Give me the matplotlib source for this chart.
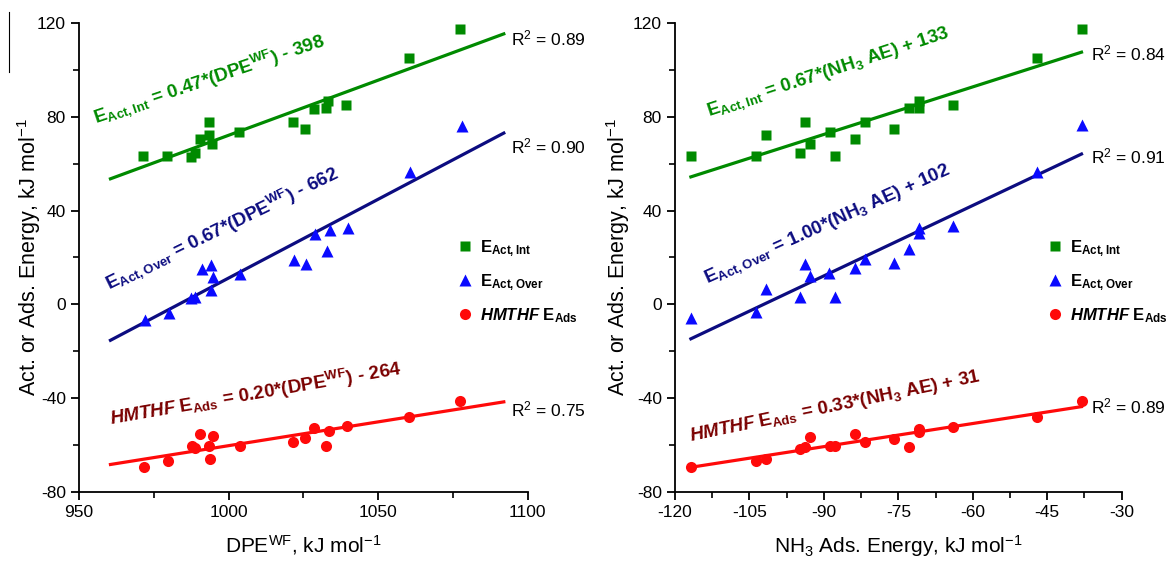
import numpy as np
import matplotlib
matplotlib.use("Agg")
import matplotlib.pyplot as plt
from matplotlib import font_manager

# 字体：优先使用窄体
names = {f.name for f in font_manager.fontManager.ttflist}
narrow = "Liberation Sans Narrow" if "Liberation Sans Narrow" in names else "Liberation Sans"
plt.rcParams["font.family"] = [narrow, "Liberation Sans", "DejaVu Sans"]
plt.rcParams["mathtext.fontset"] = "custom"
plt.rcParams["mathtext.default"] = "regular"
plt.rcParams["mathtext.it"] = narrow + ":italic:bold"
plt.rcParams["mathtext.rm"] = narrow
plt.rcParams["axes.unicode_minus"] = False

# -------------------------------
# 数据
# -------------------------------
dpe_int = [971.5, 979.4, 987.5, 988.6, 990.5, 993.5, 993.5, 994.5, 1003.5, 1021.4,
           1025.5, 1028.4, 1032.4, 1033.3, 1039.3, 1060.4, 1077.3]
e_int_l = [63.3, 63.3, 63.0, 64.4, 70.4, 77.7, 72.2, 68.4, 73.6, 77.7,
           74.7, 83.2, 83.6, 86.7, 85.0, 104.9, 117.3]

dpe_over = [972.0, 980.0, 987.5, 988.9, 991.0, 994.0, 994.9, 994.0, 1003.8, 1021.9,
            1025.8, 1028.9, 1033.9, 1032.8, 1040.0, 1060.7, 1077.9]
e_over_l = [-6.7, -3.5, 2.6, 3.0, 15.0, 16.8, 11.8, 6.1, 13.0, 18.9,
            17.1, 30.0, 31.7, 22.9, 32.7, 56.6, 76.1]

dpe_ads = [971.8, 979.6, 987.8, 988.9, 990.6, 994.7, 993.6, 993.7, 1003.7, 1021.6,
           1025.6, 1028.6, 1033.6, 1032.6, 1039.5, 1060.4, 1077.5]
e_ads_l = [-69.2, -66.6, -60.2, -61.4, -55.3, -56.1, -60.4, -65.9, -60.2, -58.5,
           -57.1, -52.8, -54.0, -60.4, -51.7, -47.9, -41.2]

nh3_int = [-116.7, -103.7, -101.7, -94.8, -93.8, -92.8, -88.8, -87.7, -83.7, -81.8,
           -75.8, -72.8, -70.9, -70.8, -63.9, -47.0, -38.0]
e_int_r = [63.3, 63.3, 72.2, 64.4, 77.7, 68.4, 73.6, 63.3, 70.4, 77.7,
           74.8, 83.6, 83.6, 86.7, 85.0, 104.9, 117.3]

nh3_over = [-116.7, -103.7, -101.7, -94.8, -93.8, -92.7, -88.9, -87.7, -83.7, -81.8,
            -75.8, -72.8, -70.9, -70.8, -64.0, -47.0, -38.0]
e_over_r = [-5.9, -3.1, 6.4, 3.3, 17.2, 12.1, 13.5, 3.0, 15.4, 19.4,
            17.8, 23.5, 32.5, 30.3, 33.4, 56.6, 76.5]

nh3_ads = [-116.7, -103.7, -101.7, -94.8, -93.8, -92.7, -88.8, -87.7, -83.7, -81.8,
           -75.8, -72.8, -70.9, -70.8, -63.9, -47.0, -38.0]
e_ads_r = [-69.5, -66.8, -66.1, -61.8, -60.9, -56.4, -60.4, -60.4, -55.4, -58.8,
           -57.4, -60.7, -53.1, -54.5, -52.1, -48.1, -41.1]

r2_left = ["0.89", "0.90", "0.75"]
r2_right = ["0.84", "0.91", "0.89"]

# 颜色
GREEN = "#008a00"
BLUE = "#0a0aff"
NAVY = "#0c0c80"
RED = "#ff0a0a"
DRED = "#7a0000"


def draw_panel(ax, xs, ys, xfit, eqs, r2, r2_x, r2_y, leg_x):
    styles = [
        dict(marker="s", color=GREEN, ms=7, line=GREEN),
        dict(marker="^", color=BLUE, ms=8.5, line=NAVY),
        dict(marker="o", color=RED, ms=8, line=RED),
    ]
    labels = [r"E$_{Act,Int}$", r"E$_{Act,Over}$", r"$\mathit{HMTHF}$ E$_{Ads}$"]
    handles = []
    for x, y, st, lab in zip(xs, ys, styles, labels):
        k, b = np.polyfit(x, y, 1)
        xx = np.array(xfit)
        ax.plot(xx, k * xx + b, color=st["line"], lw=2.3, zorder=2)
        h, = ax.plot(x, y, ls="none", marker=st["marker"], color=st["color"],
                     ms=st["ms"], mec="none", zorder=3, label=lab)
        handles.append(h)
    for (tx, ty, rot, txt, col) in eqs:
        ax.text(tx, ty, txt, rotation=rot, rotation_mode="anchor", ha="left",
                va="baseline", color=col, fontsize=13.5, fontweight="bold")
    for yy, v in zip(r2_y, r2):
        ax.text(r2_x, yy, r"R$^2$ = " + v, ha="left", va="center", fontsize=12.5,
                color="black", clip_on=False)
    ax.legend(handles=handles, loc="upper left", bbox_to_anchor=(leg_x, 0.555),
              frameon=False, handlelength=0.8, handletextpad=0.5,
              labelspacing=0.8, prop=dict(weight="bold", size=12), borderaxespad=0)
    ax.set_ylim(-80, 120)
    ax.set_yticks(np.arange(-80, 121, 40))
    ax.set_yticks(np.arange(-60, 120, 40), minor=True)
    for s in ["top", "right"]:
        ax.spines[s].set_visible(False)
    for s in ["left", "bottom"]:
        ax.spines[s].set_linewidth(1.3)
    ax.tick_params(which="major", direction="out", length=6, width=1.3, labelsize=12.5)
    ax.tick_params(which="minor", direction="out", length=4, width=1.2)
    ax.set_ylabel(r"Act. or Ads. Energy, kJ mol$^{-1}$", fontsize=15.5)


fig = plt.figure(figsize=(11.66, 5.64), dpi=100)
ax1 = fig.add_axes([0.0678, 0.1277, 0.3848, 0.8316])
ax2 = fig.add_axes([0.5789, 0.1277, 0.3831, 0.8316])

eqs_left = [
    (955.7, 77.2, 18.7, r"E$_{Act,Int}$ = 0.47*(DPE$^{WF}$) - 398", GREEN),
    (960.1, 6.1, 26.0, r"E$_{Act,Over}$ = 0.67*(DPE$^{WF}$) - 662", NAVY),
    (960.6, -51.4, 9.8, r"$\mathit{HMTHF}$ E$_{Ads}$ = 0.20*(DPE$^{WF}$) - 264", DRED),
]
draw_panel(ax1, [dpe_int, dpe_over, dpe_ads], [e_int_l, e_over_l, e_ads_l],
           [960.5, 1092], eqs_left, r2_left, 1094.3, [113.2, 67.2, -45.0], 0.83)
ax1.set_xlim(950, 1100)
ax1.set_xticks(np.arange(950, 1101, 50))
ax1.set_xticks(np.arange(975, 1100, 50), minor=True)
ax1.set_xlabel(r"DPE$^{WF}$, kJ mol$^{-1}$", fontsize=15, labelpad=9)
ax1.yaxis.set_label_coords(-0.08, 0.5)

eqs_right = [
    (-113.1, 80.3, 18.2, r"E$_{Act,Int}$ = 0.67*(NH$_3$ AE) + 133", GREEN),
    (-113.5, 9.0, 24.3, r"E$_{Act,Over}$ = 1.00*(NH$_3$ AE) + 102", NAVY),
    (-116.8, -58.5, 11.7, r"$\mathit{HMTHF}$ E$_{Ads}$ = 0.33*(NH$_3$ AE) + 31", DRED),
]
draw_panel(ax2, [nh3_int, nh3_over, nh3_ads], [e_int_r, e_over_r, e_ads_r],
           [-116.8, -38.1], eqs_right, r2_right, -36.1, [107.1, 63.0, -43.6], 0.82)
ax2.set_xlim(-120, -30)
ax2.set_xticks(np.arange(-120, -29, 15))
ax2.set_xticks(np.arange(-112.5, -30, 15), minor=True)
ax2.set_xlabel(r"NH$_3$ Ads. Energy, kJ mol$^{-1}$", fontsize=15, labelpad=9)
ax2.yaxis.set_label_coords(-0.097, 0.5)

# 左上角的细线
fig.add_artist(plt.Line2D([9 / 1166, 9 / 1166], [1 - 12 / 564, 1 - 72 / 564],
                          color="black", lw=0.8))

fig.savefig("out.png", dpi=100)
